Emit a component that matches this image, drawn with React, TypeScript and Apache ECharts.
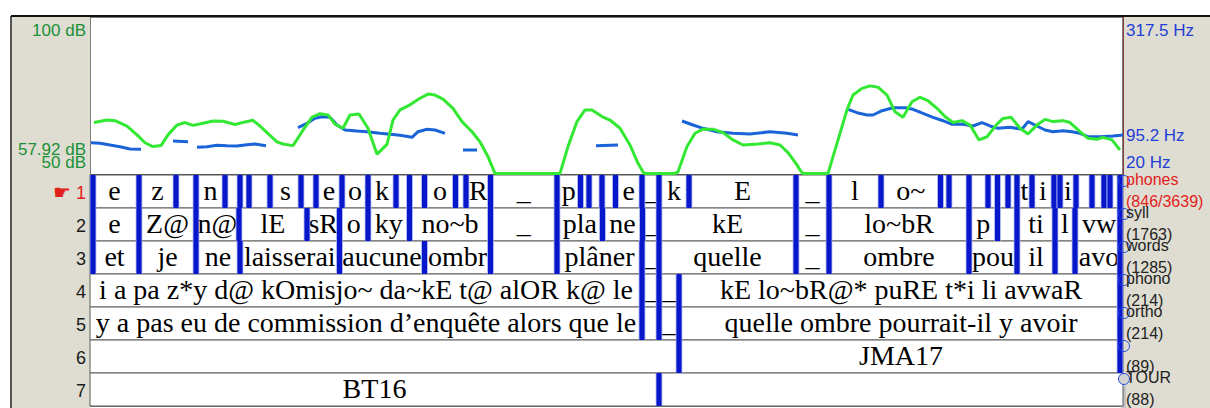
import React, { useEffect, useRef } from "react";
import * as echarts from "echarts";

// ---------- data ----------
const DURATION = 10.33; // seconds shown in the window

// intensity contour (time s, dB)
const intensityDb: [number, number][] = [
  [0.04, 66.6], [0.17, 67.4], [0.25, 67.2], [0.37, 65.5], [0.47, 62.7], [0.55, 60.2], [0.63, 59.0], [0.71, 59.3],
  [0.78, 62.7], [0.87, 65.8], [0.95, 66.6], [1.03, 65.7], [1.13, 66.4], [1.23, 67.1], [1.33, 67.0], [1.45, 66.0],
  [1.55, 66.8], [1.63, 67.3], [1.70, 65.5], [1.77, 63.4], [1.87, 60.5], [1.93, 59.8], [2.03, 59.3], [2.12, 63.7],
  [2.22, 68.3], [2.30, 69.4], [2.38, 69.0], [2.45, 66.1], [2.53, 64.8], [2.60, 69.0], [2.69, 69.3], [2.78, 64.8],
  [2.87, 56.6], [2.97, 59.7], [3.03, 67.4], [3.10, 70.6], [3.20, 72.2], [3.30, 74.3], [3.38, 75.6], [3.45, 75.3],
  [3.53, 74.0], [3.63, 71.1], [3.72, 66.9], [3.82, 63.7], [3.90, 60.5], [3.98, 55.8], [4.05, 50.5], [4.70, 50.5],
  [4.78, 59.0], [4.87, 66.9], [4.95, 70.6], [5.02, 70.6], [5.12, 68.5], [5.20, 67.4], [5.30, 64.8], [5.40, 59.5],
  [5.48, 53.7], [5.54, 50.5], [5.85, 50.5], [5.88, 51.0], [5.97, 59.0], [6.05, 63.2], [6.13, 64.5], [6.23, 64.5],
  [6.33, 63.4], [6.43, 61.1], [6.53, 59.5], [6.68, 59.8], [6.80, 60.2], [6.90, 59.5], [6.98, 57.1], [7.07, 53.2],
  [7.10, 51.6], [7.13, 50.5], [7.38, 50.5], [7.47, 60.0], [7.57, 70.6], [7.63, 75.3], [7.72, 77.4], [7.80, 78.2],
  [7.88, 77.8], [7.97, 75.3], [8.05, 70.0], [8.13, 68.3], [8.22, 73.2], [8.30, 74.6], [8.38, 73.5], [8.47, 71.1],
  [8.55, 68.5], [8.63, 66.6], [8.72, 67.2], [8.80, 65.8], [8.89, 61.1], [8.97, 62.1], [9.07, 66.1], [9.13, 67.9],
  [9.21, 68.3], [9.30, 64.8], [9.38, 63.0], [9.47, 65.8], [9.55, 67.6], [9.63, 66.9], [9.73, 67.2], [9.80, 66.6],
  [9.90, 63.7], [9.98, 61.6], [10.07, 61.3], [10.13, 61.9], [10.22, 61.1], [10.30, 57.92],
];

// pitch contour, voiced stretches (time s, Hz)
const pitchSeg1: [number, number][] = [[0.01, 80.8], [0.10, 79.7], [0.20, 76.5], [0.30, 73.3], [0.40, 69.0], [0.51, 68.4]];
const pitchSeg2: [number, number][] = [[0.83, 84.0], [0.98, 82.7]];
const pitchSeg3: [number, number][] = [[1.07, 72.2], [1.17, 73.3], [1.27, 75.9], [1.37, 75.2], [1.47, 74.6], [1.57, 77.1], [1.65, 78.4], [1.76, 75.2]];
const pitchSeg4: [number, number][] = [
  [2.08, 109.1], [2.17, 117.3], [2.25, 126.8], [2.32, 129.8], [2.40, 128.7], [2.47, 114.1], [2.55, 104.7], [2.67, 102.9],
  [2.77, 101.5], [2.90, 98.5], [3.00, 96.6], [3.10, 95.0], [3.22, 91.0], [3.28, 101.5], [3.37, 106.1], [3.45, 104.7], [3.55, 98.5],
];
const pitchSeg5: [number, number][] = [[3.73, 67.1], [3.87, 67.1]];
const pitchSeg6: [number, number][] = [[5.06, 75.2], [5.28, 76.5]];
const pitchSeg7: [number, number][] = [[5.92, 121.7], [6.03, 114.1], [6.13, 107.9], [6.27, 101.5], [6.43, 98.5], [6.60, 97.2], [6.80, 101.5], [6.97, 98.5], [7.08, 95.3]];
const pitchSeg8: [number, number][] = [
  [7.58, 143.7], [7.67, 137.3], [7.77, 133.0], [7.83, 133.0], [7.92, 141.1], [8.03, 146.7], [8.15, 146.7], [8.23, 143.7],
  [8.33, 136.2], [8.43, 128.6], [8.53, 122.2], [8.62, 115.5], [8.73, 115.5], [8.83, 112.3], [8.92, 118.5], [9.00, 112.3],
  [9.08, 107.9], [9.20, 109.8], [9.32, 106.1], [9.38, 120.4], [9.47, 112.3], [9.55, 104.7], [9.63, 101.5], [9.73, 103.4],
  [9.82, 101.5], [9.90, 98.5], [9.98, 92.1], [10.10, 92.1], [10.23, 93.4], [10.33, 95.2],
];
const pitchSegments = [pitchSeg1, pitchSeg2, pitchSeg3, pitchSeg4, pitchSeg5, pitchSeg6, pitchSeg7, pitchSeg8];

// axis labels
const dbLabels = [100, 57.92, 50];
const hzLabels = [317.5, 95.2, 20];
const DB_RANGE = [50, 100];
const HZ_RANGE = [20, 317.5];

// tiers: boundaries (s) and interval labels
const phonesBounds = [0, 0.49, 0.86, 1.06, 1.35, 1.5, 1.59, 1.8, 2.11, 2.26, 2.52, 2.78, 3.06, 3.195, 3.345, 3.655, 3.76, 4.005, 4.67, 4.905, 4.99, 5.12, 5.255, 5.52, 5.69, 5.99, 7.06, 7.39, 7.91, 8.505, 8.59, 8.79, 8.98, 9.075, 9.18, 9.27, 9.42, 9.64, 9.7, 9.86, 10.02, 10.14, 10.2, 10.33];
const phonesLabels = ["e", "z", "", "n", "", "", "", "s", "", "e", "o", "k", "", "", "o", "", "R", "_", "p", "", "", "", "e", "_", "k", "E", "_", "l", "o~", "", "", "", "", "", "", "t", "i", "", "i", "", "", "", ""];

const syllBounds = [0, 0.49, 1.06, 1.49, 2.17, 2.495, 2.78, 3.195, 4.005, 4.67, 5.125, 5.525, 5.69, 7.06, 7.39, 8.79, 9.075, 9.27, 9.65, 9.85, 10.33];
const syllLabels = ["e", "Z@", "n@", "lE", "sR", "o", "ky", "no~b", "_", "pla", "ne", "_", "kE", "_", "lo~bR", "p", "", "ti", "l", "vw"];

const wordsBounds = [0, 0.49, 1.06, 1.5, 2.495, 3.345, 4.005, 4.67, 5.52, 5.69, 7.06, 7.39, 8.79, 9.27, 9.65, 9.85, 10.33];
const wordsLabels = ["et", "je", "ne", "laisserai", "aucune", "ombr", "", "plâner", "_", "quelle", "_", "ombre", "pou", "il", "", "avo"];

const phonoBounds = [0, 5.52, 5.69, 5.89, 10.33];
const phonoLabels = ["i a pa z*y d@ kOmisjo~ da~kE t@ alOR k@ le", "_", "_", "kE lo~bR@* puRE t*i li avwaR"];

const orthoBounds = [0, 5.52, 5.69, 5.89, 10.33];
const orthoLabels = ["y a pas eu de commission d’enquête alors que le", "", "_", "quelle ombre pourrait-il y avoir"];

const speakerBounds = [0, 5.89, 10.33];
const speakerLabels = ["", "JMA17"];

const tourBounds = [0, 5.69, 10.33];
const tourLabels = ["BT16", ""];

const tierNames = ["phones", "syll", "words", "phono", "ortho", "", "TOUR"];
const tierCounts = ["(846/3639)", "(1763)", "(1285)", "(214)", "(214)", "(89)", "(88)"];
const tierBounds = [phonesBounds, syllBounds, wordsBounds, phonoBounds, orthoBounds, speakerBounds, tourBounds];
const tierLabels = [phonesLabels, syllLabels, wordsLabels, phonoLabels, orthoLabels, speakerLabels, tourLabels];
const tierLeftBar = [true, true, true, false, false, false, false];
const tierRightBar = [true, true, true, true, true, true, false];

// ---------- styles ----------
const GREEN = "#33e833";
const PITCH_BLUE = "#1a64d8";
const BAR_BLUE = "#0717c9";
const PANEL = "#dfddd1";
const RED = "#e3211c";
const SANS = '"Liberation Sans", Arial, sans-serif';
const SERIF = '"Liberation Serif", "Times New Roman", serif';

export default function App() {
  const ref = useRef<HTMLDivElement>(null);

  useEffect(() => {
    if (!ref.current) return;
    const chart = echarts.init(ref.current, null, { renderer: "svg" });

    const pitchData: any[] = [];
    pitchSegments.forEach((seg, i) => {
      if (i > 0) pitchData.push([seg[0][0], null]);
      seg.forEach((p) => pitchData.push(p));
    });

    const textItems: { s: number; e: number; tier: number; label: string }[] = [];
    const barItems: [number, number][] = [];
    tierBounds.forEach((b, ti) => {
      tierLabels[ti].forEach((lab, j) => textItems.push({ s: b[j], e: b[j + 1], tier: ti, label: lab }));
      b.forEach((t, j) => {
        const last = b.length - 1;
        if ((j > 0 && j < last) || (j === 0 && tierLeftBar[ti]) || (j === last && tierRightBar[ti])) {
          barItems.push([t, ti]);
        }
      });
    });

    const rowRender = (params: any, api: any) => {
      const i = api.value(1);
      const a = api.coord([0, i]);
      const b = api.coord([DURATION, i + 1]);
      return {
        type: "rect",
        shape: { x: a[0], y: a[1], width: b[0] - a[0], height: b[1] - a[1] },
        style: { fill: "#fff", stroke: "#5a5a5a", lineWidth: 1 },
      };
    };

    const textRender = (params: any, api: any) => {
      const it = textItems[params.dataIndex];
      const a = api.coord([it.s, it.tier]);
      const b = api.coord([it.e, it.tier + 1]);
      return {
        type: "text",
        x: (a[0] + b[0]) / 2,
        y: (a[1] + b[1]) / 2 - 1,
        style: { text: it.label, fill: "#000", font: `28px ${SERIF}`, align: "center", verticalAlign: "middle" },
      };
    };

    const barRender = (params: any, api: any) => {
      const cs = params.coordSys;
      const a = api.coord([api.value(0), api.value(1)]);
      const b = api.coord([api.value(0), api.value(1) + 1]);
      const w = 5;
      const x0 = Math.max(cs.x + 0.5, Math.min(cs.x + cs.width - w - 0.5, a[0] - w / 2));
      return {
        type: "group",
        children: [
          { type: "rect", shape: { x: x0 - 0.8, y: a[1], width: w + 1.6, height: b[1] - a[1] }, style: { fill: "#9aa6ee" } },
          { type: "rect", shape: { x: x0, y: a[1], width: w, height: b[1] - a[1] }, style: { fill: BAR_BLUE } },
        ],
      };
    };

    const sideRender = (params: any, api: any) => {
      const i = api.value(1);
      const cs = params.coordSys;
      const top = api.coord([0, i])[1];
      const bot = api.coord([0, i + 1])[1];
      const mid = (top + bot) / 2;
      const right = cs.x + cs.width;
      const isFirst = i === 0;
      const col = isFirst ? RED : "#1a1a1a";
      const children: any[] = [
        { type: "text", x: cs.x - 4, y: mid + 1, style: { text: String(i + 1), align: "right", verticalAlign: "middle", font: `18px ${SANS}`, fill: col } },
        { type: "circle", shape: { cx: right + 1, cy: top + 6, r: 5.5 }, style: { fill: i === 6 ? "#d2d2d2" : "none", stroke: "#2448e0", lineWidth: 1 } },
        { type: "text", x: right + 3, y: top + 4, style: { text: tierNames[i], align: "left", verticalAlign: "middle", font: `16px ${SANS}`, fill: isFirst ? RED : "#222" } },
        { type: "text", x: right + 3, y: top + 26, style: { text: tierCounts[i], align: "left", verticalAlign: "middle", font: `16px ${SANS}`, fill: isFirst ? RED : "#222" } },
      ];
      if (isFirst) {
        children.push({ type: "text", x: cs.x - 19, y: mid, style: { text: "☛", align: "right", verticalAlign: "middle", font: `20px "DejaVu Sans", sans-serif`, fill: RED } });
      }
      return { type: "group", children };
    };

    const axisLabelRender = (unit: string, side: "left" | "right", color: string) => (params: any, api: any) => {
      const cs = params.coordSys;
      const v = api.value(1);
      let y = api.coord([0, v])[1];
      y = Math.min(Math.max(y, cs.y + 13), cs.y + cs.height - 12.5);
      return {
        type: "text",
        x: side === "left" ? cs.x - 4 : cs.x + cs.width + 3,
        y,
        style: { text: `${v} ${unit}`, align: side === "left" ? "right" : "left", verticalAlign: "middle", font: `17px ${SANS}`, fill: color },
      };
    };

    const option: any = {
      animation: false,
      backgroundColor: "#fff",
      grid: [
        { left: 90, top: 17, width: 1033, height: 158, show: true, backgroundColor: "#fff", borderColor: "#555", borderWidth: 1.5 },
        { left: 90, top: 175, width: 1033, height: 231, show: true, backgroundColor: "#fff", borderColor: "#444", borderWidth: 1.5 },
      ],
      xAxis: [
        { type: "value", gridIndex: 0, min: 0, max: DURATION, show: false },
        { type: "value", gridIndex: 1, min: 0, max: DURATION, show: false },
      ],
      yAxis: [
        { type: "value", gridIndex: 0, min: DB_RANGE[0], max: DB_RANGE[1], show: false },
        { type: "value", gridIndex: 0, min: HZ_RANGE[0], max: HZ_RANGE[1], show: false, position: "right" },
        { type: "value", gridIndex: 1, min: 0, max: 7, inverse: true, show: false },
      ],
      graphic: [
        { type: "rect", shape: { x: 11, y: 16, width: 79, height: 392 }, style: { fill: PANEL }, z: 0 },
        { type: "rect", shape: { x: 1123, y: 16, width: 87, height: 392 }, style: { fill: PANEL }, z: 0 },
        { type: "rect", shape: { x: 1121, y: 386, width: 5, height: 22 }, style: { fill: "#c4c4c4" }, z: 1 },
        { type: "line", shape: { x1: 11, y1: 16, x2: 1210, y2: 16 }, style: { stroke: "#111", lineWidth: 2 }, z: 100 },
        { type: "line", shape: { x1: 11, y1: 16, x2: 11, y2: 408 }, style: { stroke: "#222", lineWidth: 1.5 }, z: 100 },
        { type: "line", shape: { x1: 1123.5, y1: 17, x2: 1123.5, y2: 175 }, style: { stroke: "#8a3a3a", lineWidth: 1 }, z: 100 },
      ],
      series: [
        {
          type: "line", xAxisIndex: 0, yAxisIndex: 1, data: pitchData, showSymbol: false, symbol: "none",
          connectNulls: false, clip: true, lineStyle: { color: PITCH_BLUE, width: 3 }, z: 3,
        },
        {
          type: "line", xAxisIndex: 0, yAxisIndex: 0, data: intensityDb, showSymbol: false, symbol: "none",
          clip: true, lineStyle: { color: GREEN, width: 3 }, z: 4,
        },
        {
          type: "custom", xAxisIndex: 0, yAxisIndex: 0, data: dbLabels.map((v) => [0, v]),
          renderItem: axisLabelRender("dB", "left", "#1a9038"), z: 10, silent: true,
        },
        {
          type: "custom", xAxisIndex: 0, yAxisIndex: 1, data: hzLabels.map((v) => [0, v]),
          renderItem: axisLabelRender("Hz", "right", "#1f40d6"), z: 10, silent: true,
        },
        {
          type: "custom", xAxisIndex: 1, yAxisIndex: 2, data: tierNames.map((_, i) => [0, i]),
          renderItem: rowRender, z: 2, silent: true,
        },
        {
          type: "custom", xAxisIndex: 1, yAxisIndex: 2, data: textItems.map((t) => [t.s, t.e, t.tier]),
          encode: { x: [0, 1], y: 2 }, renderItem: textRender, z: 3, silent: true,
        },
        {
          type: "custom", xAxisIndex: 1, yAxisIndex: 2, data: barItems,
          renderItem: barRender, z: 4, silent: true,
        },
        {
          type: "custom", xAxisIndex: 1, yAxisIndex: 2, data: tierNames.map((_, i) => [0, i]),
          renderItem: sideRender, z: 10, silent: true,
        },
      ],
    };

    chart.setOption(option);
    return () => chart.dispose();
  }, []);

  return (
    <div
      ref={ref}
      style={{ position: "absolute", left: 0, top: 0, width: 1210, height: 408, background: "#fff" }}
    />
  );
}
